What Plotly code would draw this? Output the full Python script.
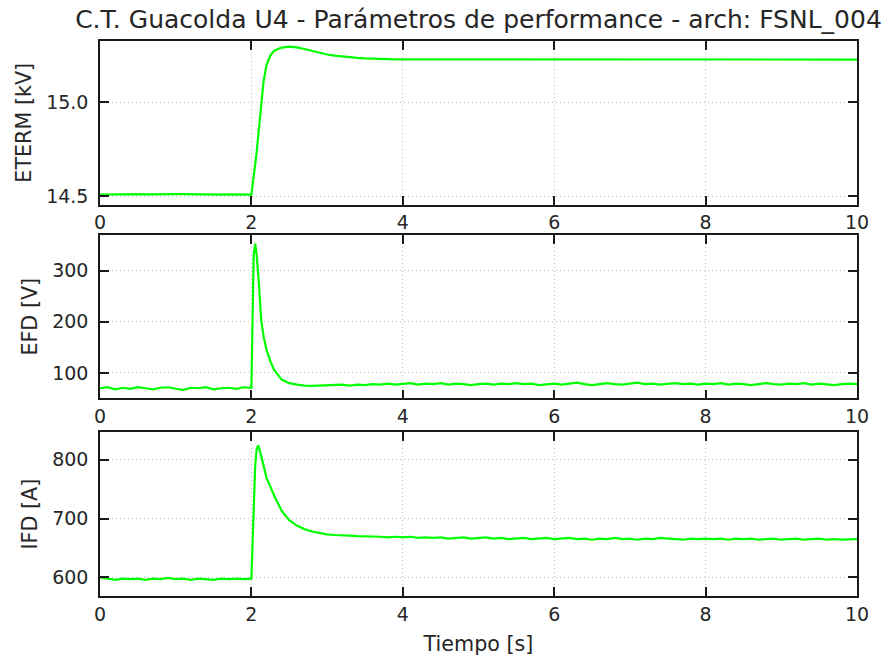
import plotly.graph_objects as go

# ---------------- data ----------------
tiempo = [
    0.0, 0.1, 0.2, 0.3, 0.4, 0.5, 0.6, 0.7, 0.8, 0.9,
    1.0, 1.1, 1.2, 1.3, 1.4, 1.5, 1.6, 1.7, 1.8, 1.9,
    2.0, 2.01, 2.03, 2.05, 2.07, 2.09, 2.11, 2.13, 2.16, 2.20,
    2.25, 2.30, 2.40, 2.50, 2.60, 2.70, 2.80, 2.90, 3.00,
    3.1, 3.2, 3.3, 3.4, 3.5, 3.6, 3.7, 3.8, 3.9, 4.0,
    4.1, 4.2, 4.3, 4.4, 4.5, 4.6, 4.7, 4.8, 4.9, 5.0,
    5.1, 5.2, 5.3, 5.4, 5.5, 5.6, 5.7, 5.8, 5.9, 6.0,
    6.1, 6.2, 6.3, 6.4, 6.5, 6.6, 6.7, 6.8, 6.9, 7.0,
    7.1, 7.2, 7.3, 7.4, 7.5, 7.6, 7.7, 7.8, 7.9, 8.0,
    8.1, 8.2, 8.3, 8.4, 8.5, 8.6, 8.7, 8.8, 8.9, 9.0,
    9.1, 9.2, 9.3, 9.4, 9.5, 9.6, 9.7, 9.8, 9.9, 10.0,
]

eterm_kv = [
    14.508, 14.509, 14.508, 14.509, 14.510, 14.510, 14.509, 14.510, 14.511, 14.511,
    14.510, 14.510, 14.509, 14.509, 14.510, 14.509, 14.508, 14.509, 14.508, 14.508,
    14.508, 14.540, 14.600, 14.665, 14.735, 14.820, 14.910, 15.000, 15.110, 15.200,
    15.250, 15.276, 15.293, 15.298, 15.294, 15.285, 15.274, 15.264, 15.256,
    15.250, 15.245, 15.241, 15.238, 15.235, 15.233, 15.232, 15.231, 15.230, 15.230,
    15.230, 15.229, 15.229, 15.230, 15.229, 15.228, 15.229, 15.229, 15.230, 15.229,
    15.229, 15.228, 15.229, 15.229, 15.228, 15.229, 15.229, 15.228, 15.228, 15.229,
    15.229, 15.228, 15.228, 15.229, 15.229, 15.228, 15.228, 15.227, 15.228, 15.228,
    15.229, 15.229, 15.228, 15.229, 15.229, 15.228, 15.229, 15.229, 15.230, 15.229,
    15.229, 15.230, 15.229, 15.229, 15.228, 15.229, 15.229, 15.230, 15.229, 15.229,
    15.228, 15.229, 15.229, 15.230, 15.229, 15.229, 15.230, 15.229, 15.229, 15.229,
]

efd_v = [
    70, 72, 68, 71, 69, 72, 70, 68, 71, 72,
    69, 67, 71, 70, 72, 68, 70, 71, 69, 72,
    71, 200, 330, 353, 330, 294, 242, 203, 172, 145,
    123, 106, 87, 80, 77, 75, 74.5, 75, 75.5,
    76, 77, 75, 77, 76, 78, 77, 79, 77, 78,
    80, 77, 79, 78, 80, 77, 79, 78, 76, 78,
    79, 77, 79, 78, 80, 78, 79, 76, 78, 79,
    77, 79, 81, 78, 76, 78, 80, 78, 77, 79,
    81, 78, 79, 77, 78, 80, 78, 79, 77, 79,
    78, 80, 77, 79, 78, 76, 78, 80, 78, 77,
    79, 78, 80, 77, 79, 78, 76, 78, 79, 78,
]

ifd_a = [
    600, 598, 596, 598, 597, 598, 596, 598, 597, 599,
    597, 598, 596, 598, 597, 596, 598, 597, 598, 597,
    598, 640, 700, 790, 818, 824, 816, 805, 789, 769,
    754, 739, 713, 697, 688, 682, 678, 675, 673,
    672, 672, 671, 670, 670, 669, 669, 668, 669, 668,
    669, 667, 668, 667, 668, 666, 667, 668, 666, 667,
    668, 666, 667, 665, 666, 667, 665, 666, 667, 665,
    666, 667, 665, 666, 664, 666, 665, 667, 665, 666,
    664, 666, 665, 667, 666, 665, 664, 666, 665, 666,
    665, 666, 664, 666, 665, 666, 664, 665, 666, 664,
    665, 666, 664, 665, 666, 664, 665, 664, 665, 665,
]

titulo = "C.T. Guacolda U4 - Parámetros de performance - arch: FSNL_004"
y_labels = ["ETERM [kV]", "EFD [V]", "IFD [A]"]
x_label = "Tiempo [s]"
x_ticks = [0, 2, 4, 6, 8, 10]

# ---------------- figure ----------------
FONT = "DejaVu Sans"
TXT = "#262626"
LINE = "#00ff00"

fig = go.Figure()
series = [eterm_kv, efd_v, ifd_a]
for i, ys in enumerate(series):
    suf = "" if i == 0 else str(i + 1)
    fig.add_trace(go.Scatter(
        x=tiempo, y=ys, mode="lines",
        line=dict(color=LINE, width=2.2),
        xaxis="x" + suf, yaxis="y" + suf, showlegend=False,
        hoverinfo="skip",
    ))

axis_common = dict(
    showline=True, linecolor="#1a1a1a", linewidth=1.5, mirror="allticks",
    ticks="inside", ticklen=9, tickwidth=1.5, tickcolor="#1a1a1a",
    showgrid=True, gridcolor="#bdbdbd", griddash="1px,3px", gridwidth=1.2,
    zeroline=False, tickfont=dict(family=FONT, size=19, color=TXT),
)

domains = [(0.7054, 1.0), (0.3559, 0.6505), (0.0, 0.2952)]
y_ranges = [[14.455, 15.328], [50, 370], [568.5, 846.5]]
y_tickvals = [[14.5, 15.0], [100, 200, 300], [600, 700, 800]]
y_fmt = [".1f", "d", "d"]

layout = dict(
    width=895, height=664,
    margin=dict(l=100, r=38, t=41, b=63),
    paper_bgcolor="white", plot_bgcolor="white",
    title=dict(text=titulo, x=0.5, xref="paper", xanchor="center",
               y=1 - 19.5 / 664, yref="container", yanchor="middle",
               font=dict(family=FONT, size=25, color=TXT)),
    font=dict(family=FONT, color=TXT),
)

for i in range(3):
    suf = "" if i == 0 else str(i + 1)
    xa = dict(axis_common)
    xa.update(domain=[0, 1], range=[0, 10], tickvals=x_ticks,
              anchor="y" + suf, ticklabelstandoff=0)
    if i == 2:
        xa.update(title=dict(text=x_label, font=dict(family=FONT, size=20.7, color=TXT), standoff=13))
    ya = dict(axis_common)
    ya.update(domain=list(domains[i]), range=y_ranges[i], tickvals=y_tickvals[i],
              tickformat=y_fmt[i], anchor="x" + suf, ticklabelstandoff=6,
              title=dict(text=y_labels[i], font=dict(family=FONT, size=20.7, color=TXT), standoff=9))
    layout["xaxis" + suf] = xa
    layout["yaxis" + suf] = ya

fig.update_layout(**layout)
fig.write_html("out.html")
